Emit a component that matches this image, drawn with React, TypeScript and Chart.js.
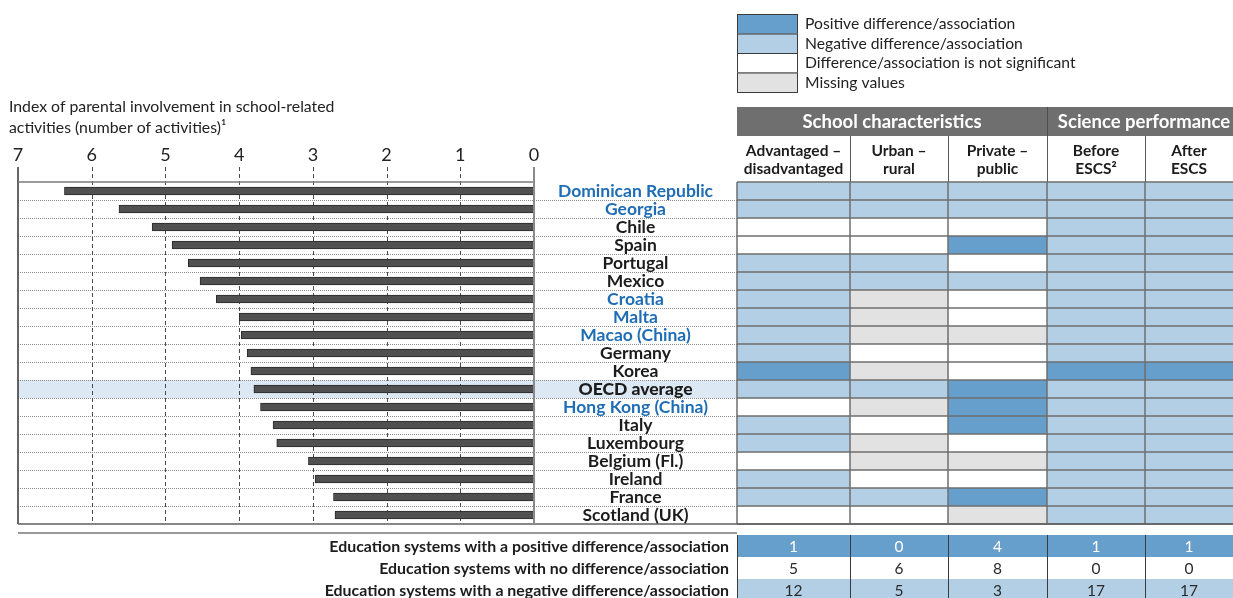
import React, { useEffect, useRef } from "react";
import { Chart, registerables } from "chart.js";

Chart.register(...registerables);

// ---------- DATA ----------
const countries = [
  "Dominican Republic", "Georgia", "Chile", "Spain", "Portugal", "Mexico", "Croatia", "Malta",
  "Macao (China)", "Germany", "Korea", "OECD average", "Hong Kong (China)", "Italy", "Luxembourg",
  "Belgium (Fl.)", "Ireland", "France", "Scotland (UK)",
];
const involvement = [
  6.37, 5.63, 5.18, 4.91, 4.69, 4.53, 4.31, 4.0, 3.97, 3.89, 3.84, 3.8, 3.71, 3.54, 3.49,
  3.06, 2.97, 2.72, 2.7,
];
const partners = ["Dominican Republic", "Georgia", "Croatia", "Malta", "Macao (China)", "Hong Kong (China)"];
const averageLabel = "OECD average";

// P = positive, N = negative, W = not significant, M = missing
const advantagedDisadvantaged = ["N", "N", "W", "W", "N", "N", "N", "N", "N", "N", "P", "N", "W", "N", "N", "W", "N", "N", "W"];
const urbanRural = ["N", "N", "W", "W", "N", "N", "M", "M", "M", "W", "M", "N", "M", "W", "M", "M", "W", "N", "W"];
const privatePublic = ["N", "N", "W", "P", "W", "N", "W", "W", "M", "W", "W", "P", "P", "P", "W", "M", "W", "P", "M"];
const beforeESCS = ["N", "N", "N", "N", "N", "N", "N", "N", "N", "N", "P", "N", "N", "N", "N", "N", "N", "N", "N"];
const afterESCS = ["N", "N", "N", "N", "N", "N", "N", "N", "N", "N", "P", "N", "N", "N", "N", "N", "N", "N", "N"];

const columnHeaders = [
  ["Advantaged –", "disadvantaged"],
  ["Urban –", "rural"],
  ["Private –", "public"],
  ["Before", "ESCS²"],
  ["After", "ESCS"],
];
const groupHeaders = ["School characteristics", "Science performance"];

const summaryLabels = [
  "Education systems with a positive difference/association",
  "Education systems with no difference/association",
  "Education systems with a negative difference/association",
];
const summaryPositive = [1, 0, 4, 1, 1];
const summaryNone = [5, 6, 8, 0, 0];
const summaryNegative = [12, 5, 3, 17, 17];

const legendLabels = [
  "Positive difference/association",
  "Negative difference/association",
  "Difference/association is not significant",
  "Missing values",
];
const legendCodes = ["P", "N", "W", "M"];

const xTicks = [7, 6, 5, 4, 3, 2, 1, 0];
const axisTitle = ["Index of parental involvement in school-related", "activities (number of activities)¹"];

// ---------- STYLE ----------
const W = 1233;
const H = 598;
const FONT = "Lato, 'Open Sans', sans-serif";
const COLORS: Record<string, string> = { P: "#679fcc", N: "#b3cfe5", W: "#ffffff", M: "#e2e2e2" };
const COL_EDGES = [737, 850, 948, 1047, 1145, 1233];
const TABLE_LEFT = 737;
const BLUE = "#1f6db5";
const INK = "#1c1c1c";

const tableColumns = [advantagedDisadvantaged, urbanRural, privatePublic, beforeESCS, afterESCS];

function line(ctx: CanvasRenderingContext2D, x1: number, y1: number, x2: number, y2: number) {
  ctx.beginPath();
  ctx.moveTo(x1, y1);
  ctx.lineTo(x2, y2);
  ctx.stroke();
}

const decorPlugin = {
  id: "decor",
  beforeDatasetsDraw(chart: any) {
    const { ctx, chartArea: ca, scales } = chart;
    const x = scales.x;
    const y = scales.y;
    const n = countries.length;
    const rowH = (ca.bottom - ca.top) / n;
    ctx.save();

    // Legend
    const legTop = 14;
    const legH = 19.5;
    legendLabels.forEach((lab, i) => {
      const y0 = legTop + i * legH;
      ctx.fillStyle = COLORS[legendCodes[i]];
      ctx.fillRect(737, y0, 61, legH);
      ctx.strokeStyle = "#3c3c3c";
      ctx.lineWidth = 1;
      ctx.strokeRect(737.5, y0 + 0.5, 60, legH);
      ctx.fillStyle = "#222";
      ctx.font = `15.7px ${FONT}`;
      ctx.textAlign = "left";
      ctx.textBaseline = "middle";
      ctx.fillText(lab, 805, y0 + legH / 2 + 0.5);
    });

    // Axis title
    ctx.fillStyle = "#222";
    ctx.font = `15.8px ${FONT}`;
    ctx.textAlign = "left";
    ctx.textBaseline = "middle";
    ctx.fillText(axisTitle[0], 9, 107);
    ctx.fillText(axisTitle[1], 9, 128);

    // Tick labels
    ctx.font = `18px ${FONT}`;
    ctx.textAlign = "center";
    xTicks.forEach((v) => {
      ctx.fillText(String(v), x.getPixelForValue(v), 155);
    });

    // OECD band
    const oi = countries.indexOf(averageLabel);
    const oy = y.getPixelForValue(oi);
    ctx.fillStyle = "#dce8f3";
    ctx.fillRect(ca.left, oy - rowH / 2, TABLE_LEFT - ca.left, rowH);

    // Dotted row separators
    ctx.strokeStyle = "#8c8c8c";
    ctx.lineWidth = 1;
    ctx.setLineDash([1, 1]);
    for (let i = 1; i < n; i++) {
      const yy = Math.round(ca.top + i * rowH) + 0.5;
      line(ctx, ca.left, yy, TABLE_LEFT, yy);
    }

    // Dashed gridlines
    ctx.strokeStyle = "#4a4a4a";
    ctx.setLineDash([4, 3]);
    for (let v = 1; v <= 6; v++) {
      const xx = Math.round(x.getPixelForValue(v)) + 0.5;
      line(ctx, xx, 167, xx, ca.bottom);
    }
    ctx.setLineDash([]);

    // Left border (7)
    ctx.strokeStyle = "#333";
    ctx.lineWidth = 1.5;
    const x7 = x.getPixelForValue(7);
    line(ctx, x7, 167, x7, ca.bottom);

    // Top axis line
    ctx.strokeStyle = "#7a7a7a";
    ctx.lineWidth = 1.5;
    line(ctx, ca.left, ca.top, x.getPixelForValue(0), ca.top);

    // Header band
    ctx.fillStyle = "#6f6f6f";
    ctx.fillRect(737, 107, W - 737, 29);
    ctx.strokeStyle = "#4e4e4e";
    ctx.lineWidth = 1;
    line(ctx, 1047.5, 107, 1047.5, 136);
    ctx.fillStyle = "#ffffff";
    ctx.font = `bold 18.5px ${FONT}`;
    ctx.textAlign = "center";
    ctx.fillText(groupHeaders[0], (737 + 1047) / 2, 122.5);
    ctx.fillText(groupHeaders[1], (1047 + 1233) / 2 + 4, 122.5);

    // Column headers
    ctx.fillStyle = INK;
    ctx.font = `bold 15.5px ${FONT}`;
    columnHeaders.forEach((lines, c) => {
      const cx = (COL_EDGES[c] + COL_EDGES[c + 1]) / 2;
      ctx.fillText(lines[0], cx, 151);
      ctx.fillText(lines[1], cx, 169);
    });
    ctx.strokeStyle = "#5a5a5a";
    ctx.lineWidth = 1;
    for (let c = 1; c < COL_EDGES.length - 1; c++) {
      const xx = COL_EDGES[c] + 0.5;
      line(ctx, xx, 136, xx, ca.top);
    }

    // Table cells
    for (let i = 0; i < n; i++) {
      const yc = y.getPixelForValue(i);
      const y0 = yc - rowH / 2;
      tableColumns.forEach((col, c) => {
        ctx.fillStyle = COLORS[col[i]];
        ctx.fillRect(COL_EDGES[c], y0, COL_EDGES[c + 1] - COL_EDGES[c], rowH);
      });
    }
    ctx.strokeStyle = "#6e6e6e";
    ctx.lineWidth = 1.5;
    for (let i = 0; i <= n; i++) {
      const yy = ca.top + i * rowH;
      line(ctx, TABLE_LEFT, yy, W, yy);
    }
    for (let c = 0; c < COL_EDGES.length - 1; c++) {
      line(ctx, COL_EDGES[c], ca.top, COL_EDGES[c], ca.bottom);
    }

    // Bottom line
    ctx.strokeStyle = "#5e5e5e";
    ctx.lineWidth = 1.5;
    line(ctx, ca.left, ca.bottom, W, ca.bottom);

    // Summary table
    ctx.strokeStyle = "#777";
    ctx.lineWidth = 1.5;
    line(ctx, ca.left, 533, TABLE_LEFT, 533);
    const sumRows = [summaryPositive, summaryNone, summaryNegative];
    const sumColors = [COLORS.P, COLORS.W, COLORS.N];
    const sumTop = 535;
    const sumH = 22;
    sumRows.forEach((vals, r) => {
      const y0 = sumTop + r * sumH;
      ctx.fillStyle = sumColors[r];
      ctx.fillRect(TABLE_LEFT, y0, W - TABLE_LEFT, sumH);
      ctx.fillStyle = INK;
      ctx.font = `bold 15.9px ${FONT}`;
      ctx.textAlign = "right";
      ctx.fillText(summaryLabels[r], 729, y0 + sumH / 2 + 1);
      ctx.font = `15.5px ${FONT}`;
      ctx.textAlign = "center";
      ctx.fillStyle = r === 0 ? "#ffffff" : "#2a2a2a";
      vals.forEach((v, c) => {
        ctx.fillText(String(v), (COL_EDGES[c] + COL_EDGES[c + 1]) / 2, y0 + sumH / 2 + 1);
      });
    });
    ctx.strokeStyle = "#3a3a3a";
    ctx.lineWidth = 1;
    for (let c = 0; c < COL_EDGES.length - 1; c++) {
      const xx = COL_EDGES[c] + 0.5;
      line(ctx, xx, sumTop, xx, H);
    }

    ctx.restore();
  },
  afterDatasetsDraw(chart: any) {
    const { ctx, chartArea: ca, scales } = chart;
    const x = scales.x;
    const y = scales.y;
    ctx.save();
    // zero line
    ctx.strokeStyle = "#8a8a8a";
    ctx.lineWidth = 2;
    const x0 = x.getPixelForValue(0);
    line(ctx, x0, 167, x0, ca.bottom);

    // Country labels
    ctx.textAlign = "center";
    ctx.textBaseline = "middle";
    countries.forEach((name, i) => {
      const isAvg = name === averageLabel;
      ctx.font = `${isAvg ? "900" : "bold"} 17.5px ${FONT}`;
      ctx.fillStyle = partners.includes(name) ? BLUE : INK;
      ctx.fillText(name, (x0 + TABLE_LEFT) / 2, y.getPixelForValue(i));
    });
    ctx.restore();
  },
};

export default function App() {
  const ref = useRef<HTMLCanvasElement>(null);
  useEffect(() => {
    const canvas = ref.current;
    if (!canvas) return;
    const chart = new Chart(canvas, {
      type: "bar",
      data: {
        labels: countries,
        datasets: [
          {
            data: involvement,
            backgroundColor: "#505050",
            borderColor: "#2a2a2a",
            borderWidth: 1,
            barThickness: 8,
          },
        ],
      },
      options: {
        indexAxis: "y",
        responsive: false,
        devicePixelRatio: 1,
        animation: false,
        layout: { padding: { left: 18, right: W - 534, top: 182, bottom: H - 524 } },
        scales: {
          x: { type: "linear", min: 0, max: 7, reverse: true, display: false },
          y: { type: "category", display: false },
        },
        plugins: { legend: { display: false }, tooltip: { enabled: false } },
      },
      plugins: [decorPlugin],
    });
    return () => chart.destroy();
  }, []);
  return (
    <div style={{ position: "absolute", left: 0, top: 0, width: W, height: H, background: "#fff" }}>
      <canvas ref={ref} width={W} height={H} style={{ display: "block", width: W, height: H }} />
    </div>
  );
}
